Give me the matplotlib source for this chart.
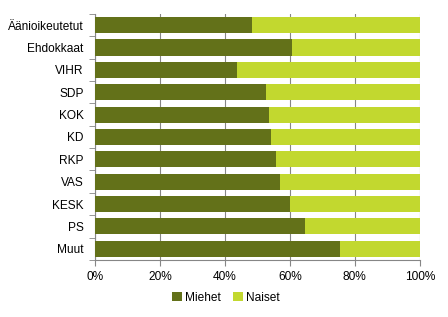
import numpy as np
import matplotlib.pyplot as plt
from matplotlib.ticker import FixedLocator, PercentFormatter

plt.rcParams["font.family"] = ["Liberation Sans", "DejaVu Sans"]
plt.rcParams["font.size"] = 8.6

categories = ["Äänioikeutetut", "Ehdokkaat", "VIHR", "SDP", "KOK", "KD",
              "RKP", "VAS", "KESK", "PS", "Muut"]
miehet = [48.4, 60.7, 43.7, 52.7, 53.6, 54.2, 55.8, 57.0, 60.1, 64.7, 75.5]
naiset = [100 - m for m in miehet]

dark = "#637119"
light = "#c2d82f"
grid = "#868686"

fig = plt.figure(figsize=(4.48, 3.17), dpi=100)
ax = fig.add_axes([0.212, 0.180, 0.725, 0.776])

y = np.arange(len(categories))
ax.barh(y, miehet, height=0.72, color=dark, label="Miehet", zorder=3)
ax.barh(y, naiset, left=miehet, height=0.72, color=light, label="Naiset", zorder=3)

ax.set_xlim(0, 100)
ax.set_ylim(len(categories) - 0.5, -0.5)
ax.set_xticks(np.arange(0, 101, 20))
ax.xaxis.set_major_formatter(PercentFormatter(decimals=0))
ax.set_yticks(y)
ax.set_yticklabels(categories)
ax.yaxis.set_minor_locator(FixedLocator(np.arange(-0.5, len(categories), 1)))
ax.tick_params(axis="y", which="major", length=0, pad=8)
ax.tick_params(axis="y", which="minor", length=4, color=grid)
ax.tick_params(axis="x", length=4, color=grid, pad=4)
ax.grid(axis="x", color=grid, linewidth=0.8, zorder=0)

for s in ["top", "right"]:
    ax.spines[s].set_visible(False)
for s in ["left", "bottom"]:
    ax.spines[s].set_color(grid)
    ax.spines[s].set_linewidth(0.8)

fig.legend(loc="center", bbox_to_anchor=(0.505, 0.06), ncol=2, frameon=False,
           handlelength=0.8, handleheight=0.8, handletextpad=0.3, columnspacing=1.0)

plt.savefig("out.png", dpi=100)
